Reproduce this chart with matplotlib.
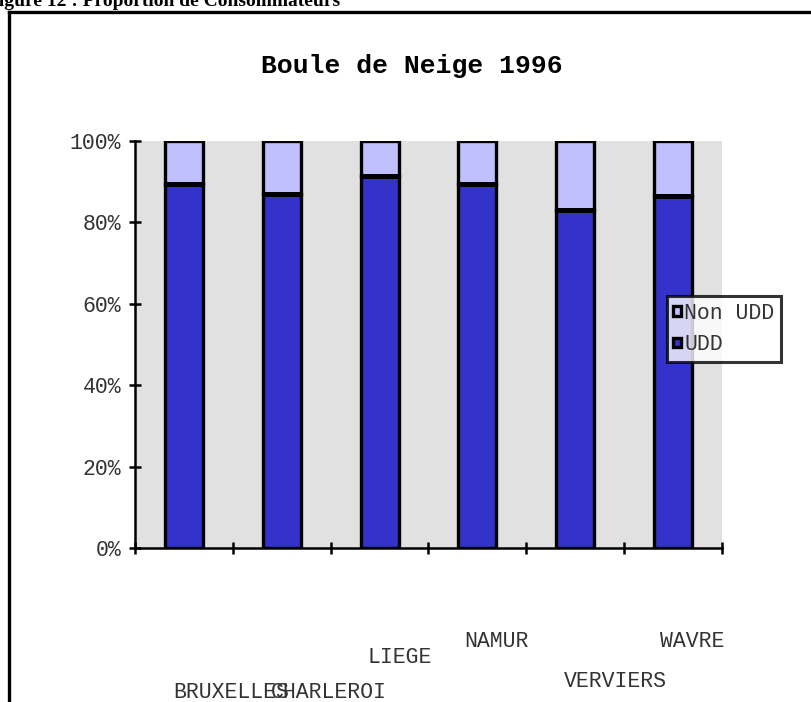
import matplotlib
matplotlib.use("Agg")
import matplotlib.pyplot as plt
from matplotlib.lines import Line2D
from matplotlib.patches import Patch
import numpy as np

# data (percent of consumers)
villes = ["BRUXELLES", "CHARLEROI", "LIEGE", "NAMUR", "VERVIERS", "WAVRE"]
udd = [89.4, 86.9, 91.5, 89.4, 83.0, 86.5]
non_udd = [100 - v for v in udd]
y_ticks = [0, 20, 40, 60, 80, 100]

# where each staggered city label sits (offset in category units, height in axes units)
label_dx = [0.48, 0.48, 0.21, 0.19, 0.41, 0.20]
label_y = [-0.356, -0.356, -0.268, -0.229, -0.327, -0.229]

col_udd = "#3333cc"
col_non = "#c0c0ff"
mono = "Liberation Mono"

fig = plt.figure(figsize=(8.12, 7.02), dpi=100)
fig.patch.set_facecolor("white")

# header of the page, cut at the top
fig.text(340 / 812, 1 - 6 / 702, "Figure 12 : Proportion de Consommateurs",
         ha="right", va="baseline", fontsize=14, fontweight="bold",
         family="Liberation Serif")

# frame round the chart (runs off right and bottom)
fig.add_artist(Line2D([9 / 812, 1.01], [1 - 12 / 702, 1 - 12 / 702],
                      transform=fig.transFigure, color="black", lw=2.4))
fig.add_artist(Line2D([9 / 812, 9 / 812], [1 - 12 / 702, -0.01],
                      transform=fig.transFigure, color="black", lw=2.4))

fig.text(412 / 812, 1 - 66 / 702, "Boule de Neige 1996", ha="center", va="center",
         fontsize=19, fontweight="bold", family=mono)

ax = fig.add_axes([135 / 812, 1 - 548 / 702, 587 / 812, 407 / 702])
ax.set_facecolor("#e1e1e1")

x = np.arange(len(villes)) + 0.5
w = 0.39
ax.bar(x, udd, width=w, color=col_udd, edgecolor="black", linewidth=2.4,
       label="UDD", zorder=3)
ax.bar(x, non_udd, width=w, bottom=udd, color=col_non, edgecolor="black",
       linewidth=2.4, label="Non UDD", zorder=3)
# thicker black seam between the two parts, like the original
ax.hlines(udd, x - w / 2, x + w / 2, color="black", lw=3.6, zorder=4)

ax.set_xlim(0, len(villes))
ax.set_ylim(0, 100)
ax.set_xticks(np.arange(len(villes) + 1))
ax.set_xticklabels([])
ax.set_yticks(y_ticks)
ax.set_yticklabels([f"{v}%" for v in y_ticks], family=mono, fontsize=15.5,
                   color="#333333")
ax.tick_params(axis="both", direction="inout", length=8, width=1.8, pad=6)

for s in ["top", "right"]:
    ax.spines[s].set_visible(False)
for s in ["left", "bottom"]:
    ax.spines[s].set_linewidth(1.8)
    ax.spines[s].set_clip_on(False)

for i, name in enumerate(villes):
    ax.text(i + 0.5 + label_dx[i], label_y[i], name, transform=ax.get_xaxis_transform(),
            ha="center", va="center", family=mono, fontsize=15.5, color="#333333")

handles = [Patch(facecolor=col_non, edgecolor="black", linewidth=2.4),
           Patch(facecolor=col_udd, edgecolor="black", linewidth=2.4)]
leg = ax.legend(handles, ["Non UDD", "UDD"], loc="upper left",
                bbox_to_anchor=(0.906, 0.619), prop={"family": mono, "size": 15.5},
                frameon=True, fancybox=False, borderpad=0.3, handlelength=0.35,
                handleheight=0.3, handletextpad=0.15, labelspacing=0.5,
                borderaxespad=0)
leg.get_frame().set_edgecolor("black")
leg.get_frame().set_linewidth(2.2)
for t in leg.get_texts():
    t.set_color("#333333")

fig.savefig("out.png", dpi=100)
